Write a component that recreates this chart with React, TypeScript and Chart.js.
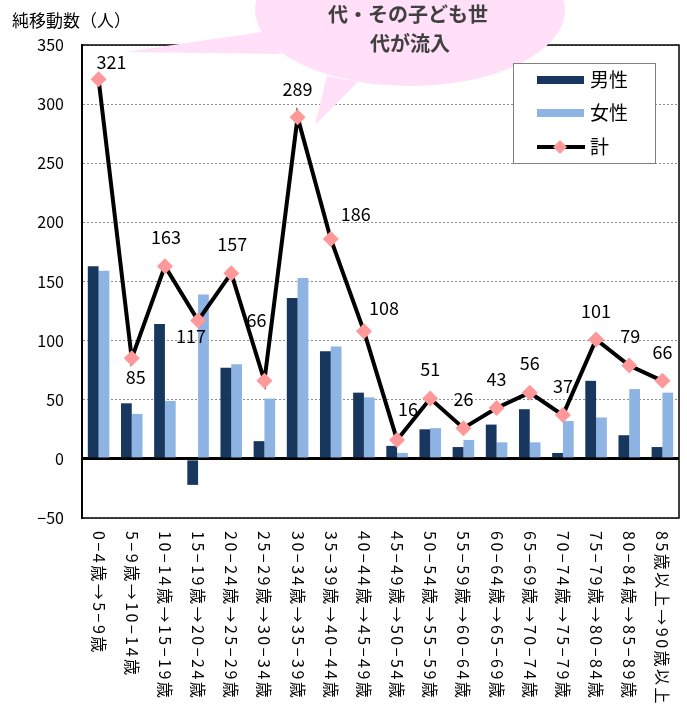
import React, { useEffect, useRef } from "react";
import { Chart, registerables } from "chart.js";

Chart.register(...registerables);

const categories = [
  "0−4歳→5−9歳",
  "5−9歳→10−14歳",
  "10−14歳→15−19歳",
  "15−19歳→20−24歳",
  "20−24歳→25−29歳",
  "25−29歳→30−34歳",
  "30−34歳→35−39歳",
  "35−39歳→40−44歳",
  "40−44歳→45−49歳",
  "45−49歳→50−54歳",
  "50−54歳→55−59歳",
  "55−59歳→60−64歳",
  "60−64歳→65−69歳",
  "65−69歳→70−74歳",
  "70−74歳→75−79歳",
  "75−79歳→80−84歳",
  "80−84歳→85−89歳",
  "85歳以上→90歳以上",
];

const maleValues = [163, 47, 114, -22, 77, 15, 136, 91, 56, 11, 25, 10, 29, 42, 5, 66, 20, 10];
const femaleValues = [159, 38, 49, 139, 80, 51, 153, 95, 52, 5, 26, 16, 14, 14, 32, 35, 59, 56];
const totalValues = [321, 85, 163, 117, 157, 66, 289, 186, 108, 16, 51, 26, 43, 56, 37, 101, 79, 66];

const seriesNames = ["男性", "女性", "計"];
const yAxisTitle = "純移動数（人）";
const calloutLines = ["代・その子ども世", "代が流入"];

const yMin = -50;
const yMax = 350;
const yStep = 50;

// label placement offsets (px) relative to each total marker
const labelOffsets: [number, number][] = [
  [13, -17], [4, 19], [1, -29], [-7, 16], [1, -29], [-8, -61], [0, -28], [25, -25], [20, -23],
  [11, -31], [0, -29], [0, -29], [0, -29], [0, -29], [0, -29], [0, -28], [1, -29], [0, -29],
];

const MALE = "#17375E";
const FEMALE = "#8EB4E3";
const PINK = "#FF9999";
const FONT = "'Noto Sans CJK JP', 'Noto Sans', sans-serif";

const overlay = {
  id: "overlay",
  afterDatasetsDraw(chart: any) {
    const { ctx, chartArea: a } = chart;
    ctx.save();
    ctx.strokeStyle = "#000";
    ctx.lineWidth = 1.5;
    ctx.strokeRect(a.left, a.top, a.right - a.left, a.bottom - a.top);
    ctx.restore();

    const meta = chart.getDatasetMeta(2);
    ctx.save();
    ctx.fillStyle = "#000";
    ctx.font = `18px ${FONT}`;
    ctx.textAlign = "center";
    ctx.textBaseline = "middle";
    meta.data.forEach((pt: any, i: number) => {
      const [dx, dy] = labelOffsets[i];
      ctx.fillText(String(totalValues[i]), pt.x + dx, pt.y + dy);
    });
    ctx.restore();
  },
  afterDraw(chart: any) {
    const { ctx } = chart;
    // x labels, vertical (rotated clockwise)
    const xs = chart.scales.x;
    ctx.save();
    ctx.fillStyle = "#000";
    ctx.font = `16px ${FONT}`;
    (ctx as any).letterSpacing = "2.5px";
    ctx.textAlign = "left";
    ctx.textBaseline = "middle";
    categories.forEach((c, i) => {
      const x = xs.getPixelForValue(i);
      ctx.save();
      ctx.translate(x, 531);
      ctx.rotate(Math.PI / 2);
      ctx.fillText(c, 0, 0);
      ctx.restore();
    });
    ctx.restore();

    // callout bubble
    ctx.save();
    ctx.fillStyle = "#FFE0F8";
    ctx.beginPath();
    ctx.ellipse(410, 10, 155, 76, 0, 0, Math.PI * 2);
    ctx.fill();
    ctx.beginPath();
    ctx.moveTo(262, 32);
    ctx.lineTo(125, 52);
    ctx.lineTo(282, 54);
    ctx.closePath();
    ctx.fill();
    ctx.beginPath();
    ctx.moveTo(327, 76);
    ctx.lineTo(315, 125);
    ctx.lineTo(358, 82);
    ctx.closePath();
    ctx.fill();
    ctx.fillStyle = "#404040";
    ctx.font = `bold 20px ${FONT}`;
    ctx.textAlign = "center";
    ctx.textBaseline = "middle";
    ctx.fillText(calloutLines[0], 408, 14);
    ctx.fillText(calloutLines[1], 410, 43);
    ctx.restore();

    // legend
    ctx.save();
    ctx.fillStyle = "#fff";
    ctx.fillRect(513, 63, 142, 100);
    ctx.strokeStyle = "#808080";
    ctx.lineWidth = 1;
    ctx.strokeRect(513.5, 63.5, 142, 100);
    ctx.fillStyle = MALE;
    ctx.fillRect(537, 76, 47, 8);
    ctx.fillStyle = FEMALE;
    ctx.fillRect(537, 109, 47, 8);
    ctx.strokeStyle = "#000";
    ctx.lineWidth = 4;
    ctx.beginPath();
    ctx.moveTo(537, 147);
    ctx.lineTo(585, 147);
    ctx.stroke();
    ctx.fillStyle = PINK;
    ctx.beginPath();
    ctx.moveTo(560, 140);
    ctx.lineTo(567, 147);
    ctx.lineTo(560, 154);
    ctx.lineTo(553, 147);
    ctx.closePath();
    ctx.fill();
    ctx.fillStyle = "#000";
    ctx.font = `19px ${FONT}`;
    ctx.textAlign = "left";
    ctx.textBaseline = "middle";
    ctx.fillText(seriesNames[0], 590, 80);
    ctx.fillText(seriesNames[1], 590, 113);
    ctx.fillText(seriesNames[2], 590, 147);
    ctx.restore();

    // y axis title
    ctx.save();
    ctx.fillStyle = "#000";
    ctx.font = `17px ${FONT}`;
    ctx.textAlign = "left";
    ctx.textBaseline = "middle";
    ctx.fillText(yAxisTitle, 12, 21);
    ctx.restore();
  },
};

export default function App() {
  const ref = useRef<HTMLCanvasElement>(null);
  useEffect(() => {
    if (!ref.current) return;
    const chart = new Chart(ref.current, {
      type: "bar",
      data: {
        labels: categories,
        datasets: [
          {
            type: "bar",
            label: seriesNames[0],
            data: maleValues,
            backgroundColor: MALE,
            categoryPercentage: 0.65,
            barPercentage: 1.0,
            order: 2,
          },
          {
            type: "bar",
            label: seriesNames[1],
            data: femaleValues,
            backgroundColor: FEMALE,
            categoryPercentage: 0.65,
            barPercentage: 1.0,
            order: 2,
          },
          {
            type: "line",
            label: seriesNames[2],
            data: totalValues,
            borderColor: "#000",
            borderWidth: 4,
            pointStyle: "rectRot",
            pointRadius: 8,
            pointBackgroundColor: PINK,
            pointBorderWidth: 0,
            pointBorderColor: PINK,
            tension: 0,
            order: 0,
          } as any,
        ],
      },
      options: {
        responsive: false,
        animation: false,
        devicePixelRatio: 1,
        layout: { padding: { left: 0, top: 45, right: 7, bottom: 0 } },
        plugins: { legend: { display: false }, tooltip: { enabled: false } },
        scales: {
          x: {
            ticks: { display: false },
            grid: { display: false },
            border: { display: false },
            afterFit: (s: any) => {
              s.height = 202;
            },
          },
          y: {
            min: yMin,
            max: yMax,
            ticks: {
              stepSize: yStep,
              color: "#000",
              font: { size: 16, family: FONT },
              padding: 18,
              callback: (v: any) => String(v).replace("-", "−"),
            },
            grid: {
              drawTicks: false,
              color: (c: any) => (c.tick && c.tick.value === 0 ? "#000" : "#8c8c8c"),
              lineWidth: (c: any) => (c.tick && c.tick.value === 0 ? 3 : 1),
            },
            border: {
              display: true,
              color: "#000",
              width: 2,
              dash: (c: any) => (c.tick && c.tick.value === 0 ? [] : [2, 2]),
            } as any,
            afterFit: (s: any) => {
              s.width = 82;
            },
          },
        },
      },
      plugins: [overlay],
    });
    return () => chart.destroy();
  }, []);
  return (
    <div style={{ position: "fixed", left: 0, top: 0, width: 687, height: 720 }}>
      <canvas ref={ref} width={687} height={720} style={{ display: "block" }} />
    </div>
  );
}
